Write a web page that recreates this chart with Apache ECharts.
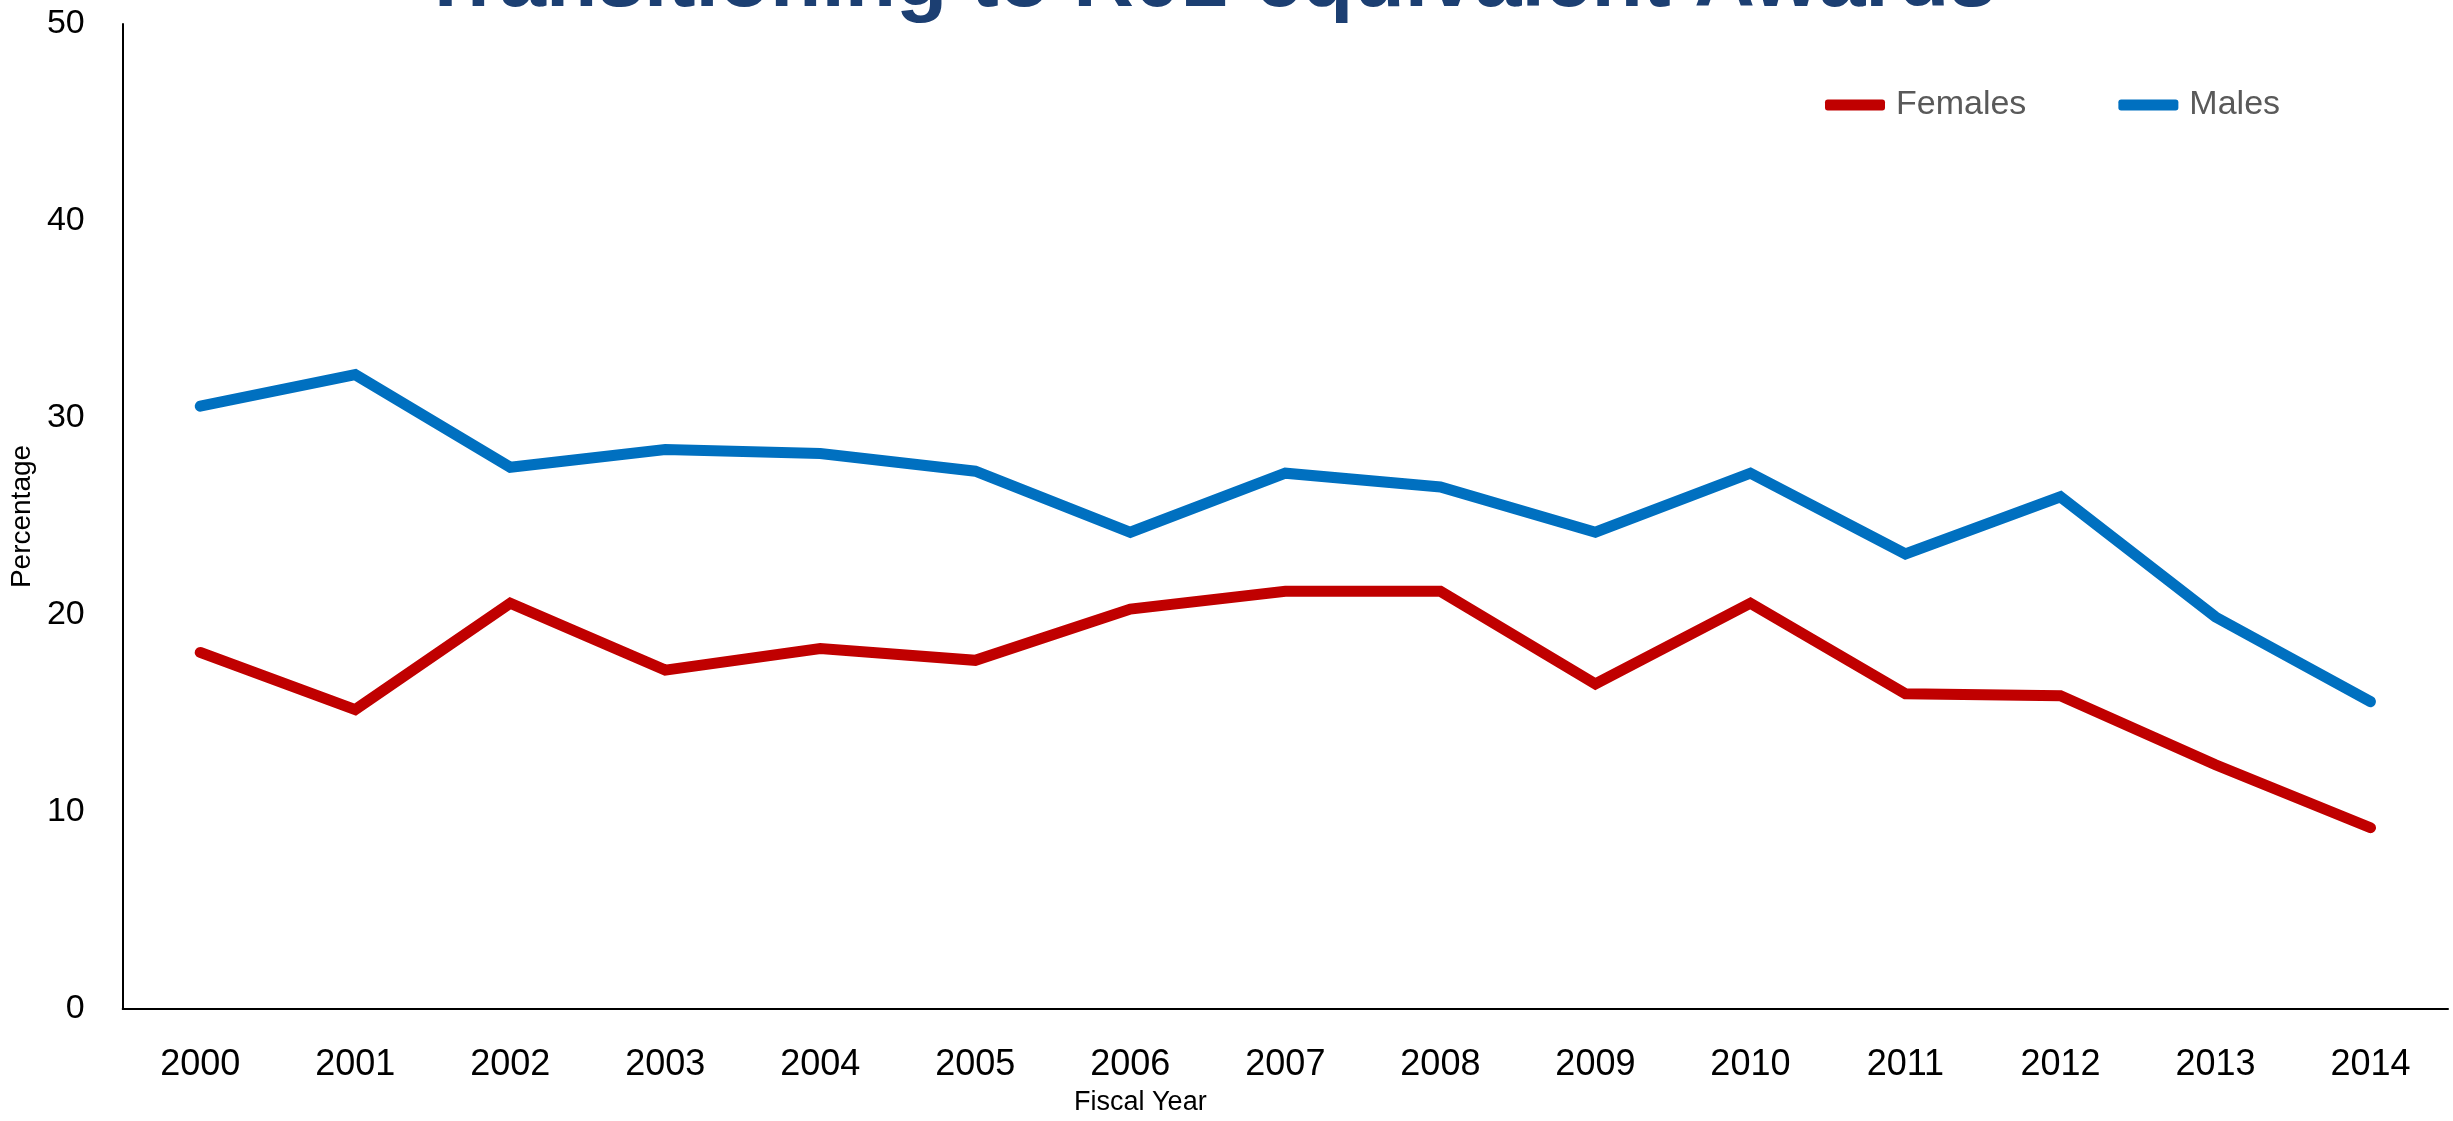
<!DOCTYPE html>
<html>
<head>
<meta charset="utf-8">
<title>Transitioning to R01-equivalent Awards</title>
<script src="https://cdn.jsdelivr.net/npm/echarts@6/dist/echarts.min.js"></script>
<style>
  html, body { margin: 0; padding: 0; background: #ffffff; }
  #chart { width: 2453px; height: 1121px; }
</style>
</head>
<body>
<div id="chart"></div>
<script>
// Fiscal years on the category axis
const years = ['2000', '2001', '2002', '2003', '2004', '2005', '2006', '2007',
               '2008', '2009', '2010', '2011', '2012', '2013', '2014'];

// Percentage transitioning, by sex
const females = [18.1, 15.2, 20.6, 17.2, 18.3, 17.7, 20.3, 21.2, 21.2, 16.5, 20.6, 16.0, 15.9, 12.4, 9.2];
const males   = [30.6, 32.2, 27.5, 28.4, 28.2, 27.3, 24.2, 27.2, 26.5, 24.2, 27.2, 23.1, 26.0, 19.9, 15.6];

// Value axis ticks
const yTicks = [0, 10, 20, 30, 40, 50];

const FONT = '"Liberation Sans", "DejaVu Sans", sans-serif';

const chart = echarts.init(document.getElementById('chart'), null, { renderer: 'canvas' });

chart.setOption({
  backgroundColor: '#ffffff',
  animation: false,
  graphic: [{
    type: 'text',
    left: 420,
    top: -59,
    style: {
      text: 'Transitioning to R01-equivalent Awards',
      fill: '#1c3f72',
      font: 'bold 84px ' + FONT
    }
  }],
  legend: {
    left: 1820,
    top: 83,
    icon: 'roundRect',
    itemWidth: 60,
    itemHeight: 11,
    itemGap: 92,
    textStyle: {
      fontFamily: FONT,
      fontSize: 34,
      color: '#595959',
      padding: [0, 0, 0, 6]
    },
    data: ['Females', 'Males']
  },
  grid: {
    left: 111,
    right: 5,
    top: 24,
    bottom: 108,
    containLabel: false
  },
  xAxis: {
    type: 'category',
    data: years,
    boundaryGap: true,
    name: 'Fiscal Year',
    nameLocation: 'middle',
    nameGap: 80,
    nameTextStyle: {
      fontFamily: FONT,
      fontSize: 27,
      color: '#000000',
      padding: [0, 290, 0, 0]
    },
    axisLine: { show: true, lineStyle: { color: '#000000', width: 2 } },
    axisTick: { show: false },
    axisLabel: {
      fontFamily: FONT,
      fontSize: 36,
      color: '#000000',
      margin: 38
    },
    splitLine: { show: false }
  },
  yAxis: {
    type: 'value',
    min: yTicks[0],
    max: yTicks[yTicks.length - 1],
    interval: yTicks[1] - yTicks[0],
    name: 'Percentage',
    nameLocation: 'middle',
    nameGap: 58,
    nameTextStyle: {
      fontFamily: FONT,
      fontSize: 28,
      color: '#000000'
    },
    axisLine: { show: true, lineStyle: { color: '#000000', width: 2 } },
    axisTick: { show: false },
    axisLabel: {
      fontFamily: FONT,
      fontSize: 34,
      color: '#000000',
      margin: 38
    },
    splitLine: { show: false }
  },
  series: [
    {
      name: 'Females',
      type: 'line',
      data: females,
      symbol: 'none',
      color: '#c00000',
      lineStyle: { color: '#c00000', width: 11, cap: 'round', join: 'miter' }
    },
    {
      name: 'Males',
      type: 'line',
      data: males,
      symbol: 'none',
      color: '#0070c0',
      lineStyle: { color: '#0070c0', width: 11, cap: 'round', join: 'miter' }
    }
  ]
});
</script>
</body>
</html>
